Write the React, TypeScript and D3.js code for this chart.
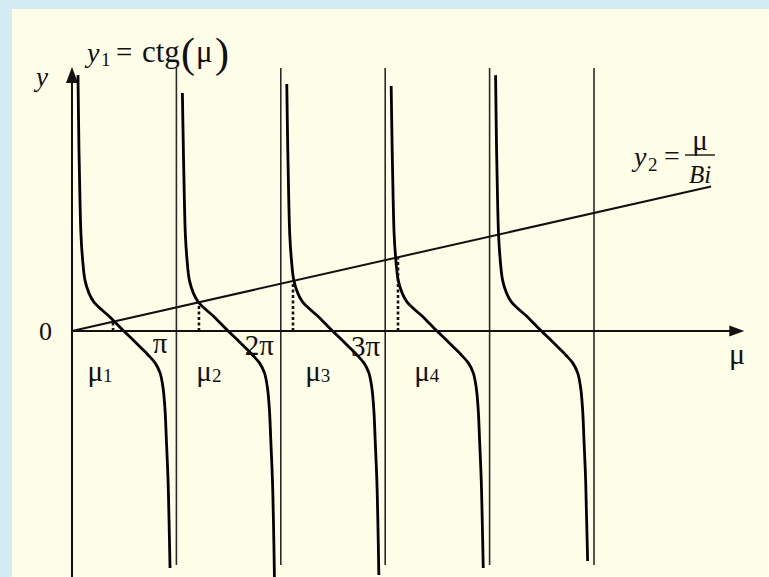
import React from "react";
import * as d3 from "d3";

// Period index of each branch of y1 = ctg(μ): branch k lives on (kπ, (k+1)π)
const branches = [0, 1, 2, 3, 4];
// Shared shape of one branch: offset from the left asymptote (rad) and y value
const profileOffset = [
  0.21, 0.24, 0.27, 0.32, 0.39, 0.51, 0.66, 0.87, 1.11, 1.35, 1.56, 1.81, 2.05, 2.29,
  2.5, 2.65, 2.74, 2.8, 2.84, 2.89, 2.92,
];
const profileY = [
  5.45, 3.94, 2.89, 2.14, 1.53, 1.14, 0.87, 0.66, 0.45, 0.21, 0, -0.24, -0.48, -0.72,
  -0.96, -1.26, -1.71, -2.38, -3.28, -4.48, -5.69,
];
// Where each branch starts (top) and ends (bottom)
const branchTopY = [7.7, 7.16, 7.43, 7.37, 7.7];
const branchBottomY = [-7.13, -7.4, -7.34, -7.13, -6.92];
const branchTopOffset = 0.18;
const branchBottomOffset = 2.95;

// Roots μ1..μ4 where the line meets the branches
const rootNames = ["1", "2", "3", "4"];
const rootMu = [1.234, 3.82, 6.65, 9.81];
// y2 = μ / Bi
const Bi = 4.42;
const lineMuEnd = 19.23;
// Asymptotes at kπ
const asymptoteK = [1, 2, 3, 4, 5];
const tickK = [1, 2, 3];
const tickLabels = ["π", "2π", "3π"];
const axisMuMax = 20.05;

const W = 769;
const H = 577;
const serif = "'Liberation Serif', 'DejaVu Serif', serif";

export default function App() {
  const x = d3.scaleLinear().domain([0, 5 * Math.PI]).range([72, 594]);
  const y = d3.scaleLinear().domain([-8, 8]).range([331 + 8 * 33.23, 331 - 8 * 33.23]);

  const line = d3
    .line<[number, number]>()
    .x((d) => x(d[0]))
    .y((d) => y(d[1]))
    .curve(d3.curveCatmullRom.alpha(0.5));

  const x0 = x(0);
  const y0 = y(0);
  const axisEnd = x(axisMuMax);
  const asymTop = 68;
  const asymBottom = 565;

  return (
    <svg
      width={W}
      height={H}
      style={{ position: "absolute", left: 0, top: 0, display: "block" }}
      fontFamily={serif}
    >
      <rect x={0} y={0} width={W} height={H} fill="#d3ebf2" />
      <rect x={12} y={9} width={W - 12} height={H - 9} fill="#fefde7" />

      {/* asymptotes */}
      {asymptoteK.map((k) => (
        <line
          key={"a" + k}
          x1={x(k * Math.PI)}
          x2={x(k * Math.PI)}
          y1={asymTop}
          y2={asymBottom}
          stroke="#2a2a2a"
          strokeWidth={1.6}
        />
      ))}

      {/* y axis */}
      <line x1={x0} x2={x0} y1={80} y2={H} stroke="#111" strokeWidth={2} />
      <path d={`M${x0},${67} L${x0 - 6},${83} L${x0 + 6},${83} Z`} fill="#111" />
      {/* μ axis */}
      <line x1={x0} x2={axisEnd - 6} y1={y0} y2={y0} stroke="#111" strokeWidth={2} />
      <path d={`M${axisEnd + 6},${y0} L${axisEnd - 9},${y0 - 5.5} L${axisEnd - 9},${y0 + 5.5} Z`} fill="#111" />

      {/* y2 = μ / Bi */}
      <line
        x1={x(0)}
        y1={y(0)}
        x2={x(lineMuEnd)}
        y2={y(lineMuEnd / Bi)}
        stroke="#111"
        strokeWidth={2}
      />

      {/* branches of ctg */}
      {branches.map((k, i) => {
        const base = k * Math.PI;
        const pts: [number, number][] = [
          [base + branchTopOffset, branchTopY[i]],
          ...profileOffset.map((o, j) => [base + o, profileY[j]] as [number, number]),
          [base + branchBottomOffset, branchBottomY[i]],
        ];
        return (
          <path key={"b" + k} d={line(pts) || ""} fill="none" stroke="#000" strokeWidth={2.8} />
        );
      })}

      {/* roots */}
      {rootMu.map((m, i) => (
        <line
          key={"r" + i}
          x1={x(m)}
          x2={x(m)}
          y1={y0}
          y2={y(m / Bi)}
          stroke="#111"
          strokeWidth={2.6}
          strokeDasharray="3,2.5"
        />
      ))}

      {/* labels */}
      <text x={36} y={86} fontSize={27} fontStyle="italic" fill="#111">y</text>
      <text x={39} y={340} fontSize={26} fill="#111">0</text>

      <g fill="#111">
        <text x={87} y={62} fontSize={28} fontStyle="italic">y</text>
        <text x={101} y={66} fontSize={19}>1</text>
        <text x={116} y={62} fontSize={29}>=</text>
        <text x={142} y={62} fontSize={31}>ctg</text>
        <text x={181} y={67} fontSize={42}>(</text>
        <text x={196} y={62} fontSize={31}>μ</text>
        <text x={215} y={67} fontSize={42}>)</text>
      </g>

      <g fill="#111">
        <text x={634} y={166} fontSize={28} fontStyle="italic">y</text>
        <text x={648} y={171} fontSize={19}>2</text>
        <text x={664} y={165} fontSize={28}>=</text>
        <line x1={685} x2={715} y1={155} y2={155} stroke="#111" strokeWidth={1.4} />
        <text x={700} y={150} fontSize={29} textAnchor="middle">μ</text>
        <text x={700} y={183} fontSize={25} fontStyle="italic" textAnchor="middle">Bi</text>
      </g>

      {tickK.map((k, i) => (
        <text
          key={"t" + k}
          x={x(k * Math.PI) - 9 + 2 * i}
          y={353 + 1.5 * i}
          fontSize={29}
          textAnchor="end"
          fill="#111"
        >
          {tickLabels[i]}
        </text>
      ))}

      {rootNames.map((n, i) => (
        <text
          key={"m" + n}
          x={x(i * Math.PI) + 28 + 4.5 * i}
          y={381}
          fontSize={29}
          textAnchor="middle"
          fill="#111"
        >
          μ
          <tspan fontSize={19} dy={1}>{n}</tspan>
        </text>
      ))}

      <text x={737} y={364} fontSize={30} textAnchor="middle" fill="#111">μ</text>
    </svg>
  );
}
